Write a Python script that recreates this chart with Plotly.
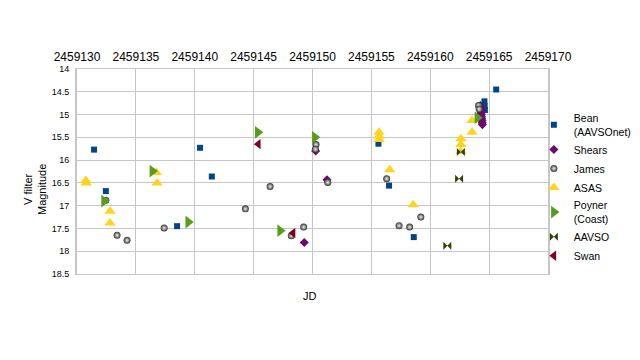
import plotly.graph_objects as go

# ---- data (JD, V magnitude) ----
bean_jd = [2459131.45, 2459132.45, 2459138.5, 2459140.45, 2459141.45, 2459155.6, 2459156.5,
           2459158.6, 2459164.6, 2459164.62, 2459164.64, 2459165.6]
bean_mag = [15.77, 16.68, 17.45, 15.73, 16.36, 15.64, 16.56, 17.69, 14.71, 14.81, 14.9, 14.45]

shears_jd = [2459149.3, 2459150.27, 2459151.23, 2459164.25, 2459164.27, 2459164.29, 2459164.31,
             2459164.33, 2459164.35, 2459164.37, 2459164.39, 2459164.41, 2459164.43]
shears_mag = [17.81, 15.8, 16.43, 14.8, 14.86, 14.91, 14.96, 15.0, 15.05, 15.09, 15.13, 15.18, 15.22]

james_jd = [2459132.45, 2459133.4, 2459134.25, 2459137.4, 2459144.3, 2459146.4, 2459148.2,
            2459149.25, 2459150.3, 2459150.25, 2459151.3, 2459156.3, 2459157.35, 2459158.25,
            2459159.2, 2459164.1, 2459164.15]
james_mag = [16.88, 17.65, 17.76, 17.49, 17.07, 16.58, 17.66, 17.47, 15.66, 15.76, 16.49, 16.41,
             17.44, 17.47, 17.25, 14.8, 14.88]

asas_jd = [2459130.75, 2459130.78, 2459132.8, 2459132.8, 2459136.75, 2459136.8, 2459155.65,
           2459155.65, 2459155.65, 2459156.55, 2459158.55, 2459162.6, 2459162.6, 2459162.6,
           2459163.55, 2459163.55]
asas_mag = [16.45, 16.5, 17.12, 17.38, 16.27, 16.5, 15.39, 15.47, 15.55, 16.21, 16.98, 15.53,
            15.66, 15.81, 15.13, 15.39]

poyner_jd = [2459132.3, 2459136.4, 2459139.45, 2459145.35, 2459147.25, 2459150.2, 2459164.0]
poyner_mag = [16.9, 16.24, 17.36, 15.39, 17.55, 15.5, 15.07]

aavso_jd = [2459161.45, 2459162.45, 2459162.6]
aavso_mag = [17.88, 16.41, 15.82]

swan_jd = [2459145.4, 2459148.35]
swan_mag = [15.65, 17.6]

x_ticks = [2459130, 2459135, 2459140, 2459145, 2459150, 2459155, 2459160, 2459165, 2459170]
y_ticks = [14, 14.5, 15, 15.5, 16, 16.5, 17, 17.5, 18, 18.5]

FONT = "Liberation Sans"

series = [
    ("Bean<br>(AAVSOnet)", bean_jd, bean_mag, dict(symbol="square", color="#004586", size=6)),
    ("Shears", shears_jd, shears_mag, dict(symbol="diamond", color="#6a0a6e", size=7)),
    ("James", james_jd, james_mag, dict(symbol="circle", color="#333333", size=7,
                                        gradient=dict(type="radial", color="#f2f2f2"))),
    ("ASAS", asas_jd, asas_mag, dict(symbol="triangle-up", color="#ffd320", size=10)),
    ("Poyner<br>(Coast)", poyner_jd, poyner_mag, dict(symbol="triangle-right", color="#579d1c", size=11)),
    ("AAVSO", aavso_jd, aavso_mag, dict(symbol="bowtie", color="#314004", size=8)),
    ("Swan", swan_jd, swan_mag, dict(symbol="triangle-left", color="#7e0021", size=9)),
]

fig = go.Figure()
for name, xs, ys, mk in series:
    mk = dict(mk)
    mk.setdefault("line", dict(width=0))
    fig.add_trace(go.Scatter(x=xs, y=ys, mode="markers", name=name, marker=mk))

grid = "#c6c6c6"
# page body has an 8px margin: figure is 632x352 so it fills the 640x360 window
fig.update_layout(
    width=632, height=352,
    margin=dict(l=69, r=92, t=61, b=86, autoexpand=False),
    paper_bgcolor="white", plot_bgcolor="white",
    font=dict(family=FONT, color="#000000"),
    showlegend=True,
    legend=dict(x=0.970, xanchor="left", y=0.826, yanchor="top",
                font=dict(family=FONT, size=10.5, color="#000"),
                bgcolor="rgba(0,0,0,0)", itemwidth=30, tracegroupgap=0),
    xaxis=dict(side="top", range=[2459130, 2459170], tickvals=x_ticks,
               ticktext=[str(v) for v in x_ticks], automargin=False,
               showgrid=True, gridcolor=grid, gridwidth=1,
               showline=True, linecolor=grid, mirror=True, zeroline=False,
               ticks="", ticklabelstandoff=2,
               tickfont=dict(family=FONT, size=12, color="#000")),
    yaxis=dict(range=[18.5, 14], tickvals=y_ticks, ticktext=[f"{v:g}" for v in y_ticks],
               automargin=False,
               showgrid=True, gridcolor=grid, gridwidth=1,
               showline=True, linecolor=grid, linewidth=2, mirror=True, zeroline=False,
               ticks="", ticklabelstandoff=4,
               tickfont=dict(family=FONT, size=9, color="#000")),
    annotations=[
        dict(text="V filter<br>Magnitude", xref="paper", yref="paper",
             x=-0.089, y=0.41, xanchor="center", yanchor="middle",
             textangle=-90, showarrow=False,
             font=dict(family=FONT, size=11, color="#000")),
        dict(text="JD", xref="paper", yref="paper", x=0.495, y=-0.107,
             xanchor="center", yanchor="middle",
             showarrow=False, font=dict(family=FONT, size=11, color="#000")),
    ],
)

fig.write_html("out.html")
